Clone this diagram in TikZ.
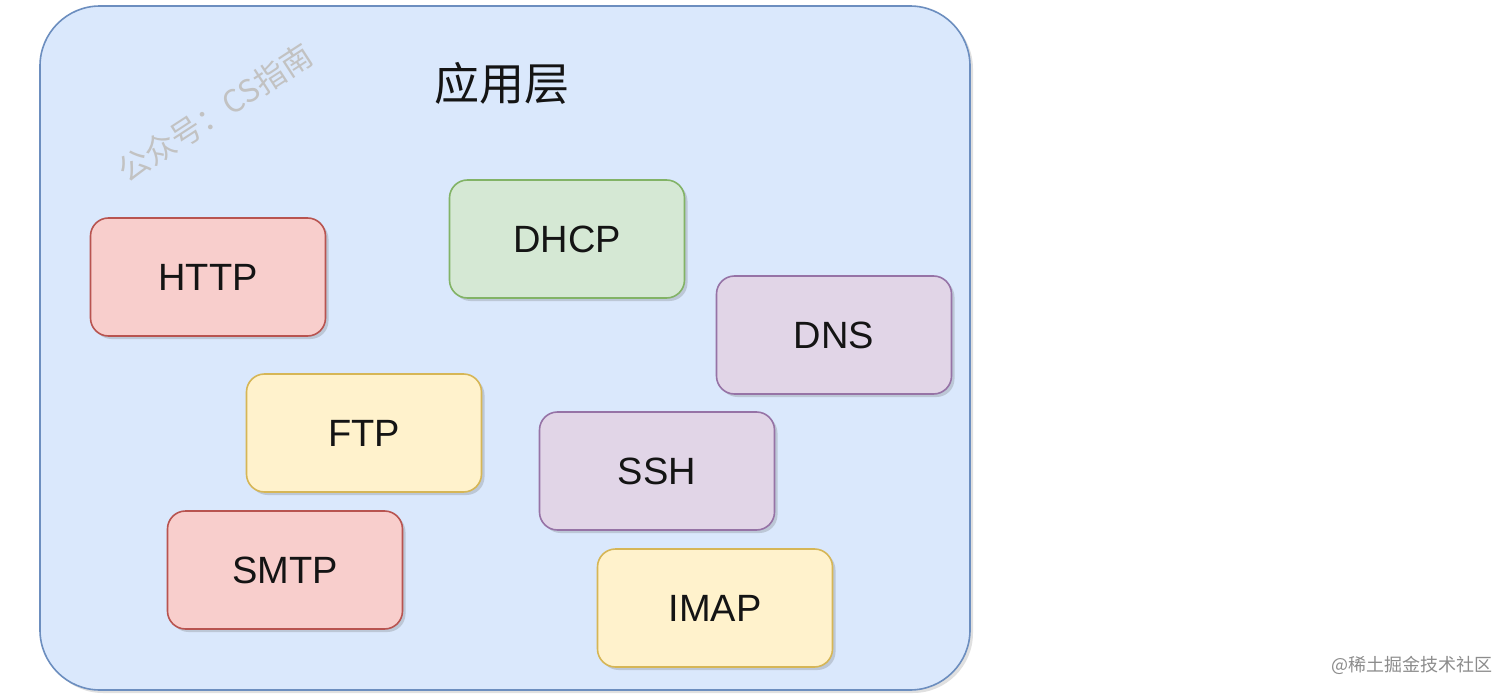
\documentclass[tikz,border=0pt]{standalone}
\usepackage{fontspec}
\setmainfont{Liberation Sans}
\newfontfamily\cjk{Noto Sans CJK SC}
\usetikzlibrary{shadows}
\definecolor{outerfill}{HTML}{DAE8FC}
\definecolor{outerdraw}{HTML}{6C8EBF}
\definecolor{redfill}{HTML}{F8CECC}
\definecolor{reddraw}{HTML}{B85450}
\definecolor{greenfill}{HTML}{D5E8D4}
\definecolor{greendraw}{HTML}{82B366}
\definecolor{purplefill}{HTML}{E1D5E7}
\definecolor{purpledraw}{HTML}{9673A6}
\definecolor{yellowfill}{HTML}{FFF2CC}
\definecolor{yellowdraw}{HTML}{D6B656}
\tikzset{
  proto/.style={rounded corners=9pt, minimum width=117.5pt, minimum height=59pt,
    line width=0.8pt, font=\fontsize{19}{22}\selectfont, text=black!92,
    drop shadow={shadow xshift=1.5pt, shadow yshift=-1.5pt, opacity=0.25, fill=black!60}},
  redp/.style={proto, fill=redfill, draw=reddraw},
  greenp/.style={proto, fill=greenfill, draw=greendraw},
  purplep/.style={proto, fill=purplefill, draw=purpledraw},
  yellowp/.style={proto, fill=yellowfill, draw=yellowdraw},
}
\begin{document}
\begin{tikzpicture}[x=0.5pt, y=-0.5pt]
\useasboundingbox (0,0) rectangle (1512,696);
\fill[white] (0,0) rectangle (1512,696);
\node[draw=outerdraw, fill=outerfill, line width=0.8pt, rounded corners=30pt,
  minimum width=465pt, minimum height=342pt,
  drop shadow={shadow xshift=1.5pt, shadow yshift=-1.5pt, opacity=0.2, fill=black!60}]
  (layer) at (505,348) {};
\node[font=\cjk\fontsize{22.5}{26}\selectfont, text=black!92] (title) at (502,83) {应用层};
\node[font=\cjk\fontsize{15.5}{18}\selectfont, text=black!24, rotate=33] (wm) at (215,113) {公众号：CS指南};
\node[redp] (http) at (208,277) {HTTP};
\node[greenp] (dhcp) at (567,239) {DHCP};
\node[purplep] (dns) at (834,335) {DNS};
\node[yellowp] (ftp) at (364,433) {FTP};
\node[purplep] (ssh) at (657,471) {SSH};
\node[redp] (smtp) at (285,570) {SMTP};
\node[yellowp] (imap) at (715,608) {IMAP};
\node[font=\cjk\fontsize{9}{11}\selectfont, text=black!45, anchor=east] (credit) at (1500,665) {@稀土掘金技术社区};
\end{tikzpicture}
\end{document}
